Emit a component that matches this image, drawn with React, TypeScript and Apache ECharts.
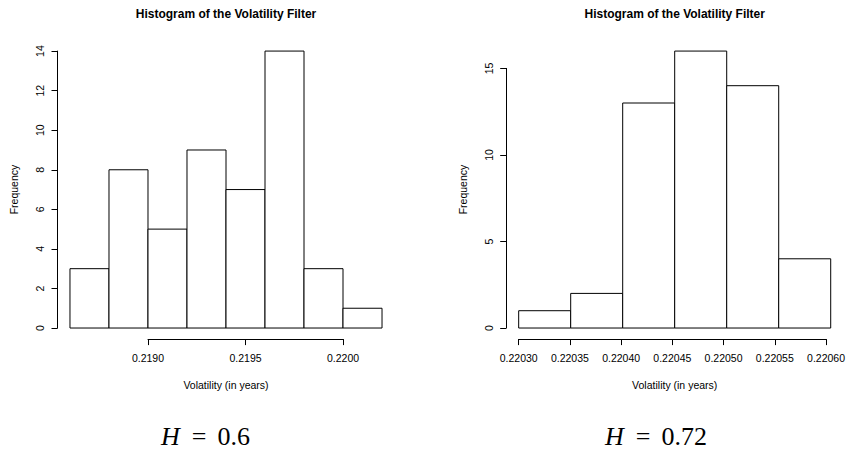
import React, { useEffect, useRef } from "react";
import * as echarts from "echarts";

// ---- data ----
const leftBreaks = [0.2186, 0.2188, 0.219, 0.2192, 0.2194, 0.2196, 0.2198, 0.22, 0.2202];
const leftCounts = [3, 8, 5, 9, 7, 14, 3, 1];
const rightBreaks = [0.2203, 0.22035, 0.2204, 0.22045, 0.2205, 0.22055, 0.2206];
const rightCounts = [1, 2, 13, 16, 14, 4];

const leftXTicks = { min: 0.219, max: 0.22, interval: 0.0005, digits: 4 };
const leftYTicks = { min: 0, max: 14, interval: 2 };
const rightXTicks = { min: 0.2203, max: 0.2206, interval: 0.00005, digits: 5 };
const rightYTicks = { min: 0, max: 15, interval: 5 };

const titleText = "Histogram of the Volatility Filter";
const xLabelText = "Volatility (in years)";
const yLabelText = "Frequency";
const leftH = "0.6";
const rightH = "0.72";

// ---- layout ----
const W = 848;
const H = 451;
const plotTop = 40;
const plotHeight = 299.1;
const plotWidth = 337;
const leftPlotLeft = 57.5;
const rightPlotLeft = 506.2;
const sans = "Liberation Sans, Arial, Helvetica, sans-serif";
const serif = "Liberation Serif, Times New Roman, serif";

function buildPanel(
  idx: number,
  breaks: number[],
  counts: number[],
  xt: { min: number; max: number; interval: number; digits: number },
  yt: { min: number; max: number; interval: number },
  plotLeft: number
) {
  const xmin0 = breaks[0];
  const xmax0 = breaks[breaks.length - 1];
  const xr = xmax0 - xmin0;
  const xmin = xmin0 - 0.04 * xr;
  const xmax = xmax0 + 0.04 * xr;
  const ymax0 = Math.max(...counts);
  const ymin = -0.04 * ymax0;
  const ymax = ymax0 + 0.04 * ymax0;
  const px = (v: number) => plotLeft + ((v - xmin) / (xmax - xmin)) * plotWidth;
  const py = (v: number) => plotTop + plotHeight - ((v - ymin) / (ymax - ymin)) * plotHeight;

  const grids = [
    { left: plotLeft, top: plotTop, width: plotWidth, height: plotHeight },
    { left: px(xt.min), top: plotTop, width: px(xt.max) - px(xt.min), height: plotHeight },
    { left: plotLeft, top: py(yt.max), width: plotWidth, height: py(yt.min) - py(yt.max) },
  ];
  const g0 = idx * 3;
  const hiddenX = (gi: number, min = 0, max = 1) => ({
    type: "value", gridIndex: gi, min, max, show: false, splitLine: { show: false },
  });
  const hiddenY = (gi: number, min = 0, max = 1) => ({
    type: "value", gridIndex: gi, min, max, show: false, splitLine: { show: false },
  });
  const axisCommon = {
    axisLine: { show: true, lineStyle: { color: "#000", width: 1 } },
    axisTick: { show: true, length: 6, lineStyle: { color: "#000", width: 1 } },
    splitLine: { show: false },
  };
  const xAxes = [
    hiddenX(g0, xmin, xmax),
    {
      type: "value",
      gridIndex: g0 + 1,
      position: "bottom",
      min: xt.min,
      max: xt.max,
      interval: xt.interval,
      ...axisCommon,
      axisLabel: {
        show: true,
        color: "#000",
        fontSize: 10.5,
        fontFamily: sans,
        margin: 13,
        showMinLabel: true,
        showMaxLabel: true,
        formatter: (v: number) => v.toFixed(xt.digits),
      },
    },
    hiddenX(g0 + 2),
  ];
  const yAxes = [
    hiddenY(g0, ymin, ymax),
    hiddenY(g0 + 1),
    {
      type: "value",
      gridIndex: g0 + 2,
      position: "left",
      min: yt.min,
      max: yt.max,
      interval: yt.interval,
      ...axisCommon,
      axisLabel: {
        show: true,
        color: "#000",
        fontSize: 10.5,
        fontFamily: sans,
        rotate: 90,
        margin: 12,
        showMinLabel: true,
        showMaxLabel: true,
      },
    },
  ];
  const data = counts.map((c, i) => [breaks[i], breaks[i + 1], c]);
  const series = {
    type: "custom",
    xAxisIndex: g0,
    yAxisIndex: g0,
    data,
    encode: { x: [0, 1], y: 2 },
    renderItem: (params: any, api: any) => {
      const a = api.coord([api.value(0), 0]);
      const b = api.coord([api.value(1), api.value(2)]);
      return {
        type: "rect",
        shape: { x: a[0], y: b[1], width: b[0] - a[0], height: a[1] - b[1] },
        style: { fill: "#fff", stroke: "#000", lineWidth: 1 },
      };
    },
  };
  const cx = plotLeft + plotWidth / 2;
  const cy = plotTop + plotHeight / 2;
  return { grids, xAxes, yAxes, series, cx, cy, plotLeft };
}

export default function App() {
  const ref = useRef<HTMLDivElement>(null);
  useEffect(() => {
    if (!ref.current) return;
    const chart = echarts.init(ref.current, undefined, { renderer: "svg", width: W, height: H });
    const L = buildPanel(0, leftBreaks, leftCounts, leftXTicks, leftYTicks, leftPlotLeft);
    const R = buildPanel(1, rightBreaks, rightCounts, rightXTicks, rightYTicks, rightPlotLeft);
    const texts: any[] = [];
    [
      { p: L, h: leftH, hx: 161 },
      { p: R, h: rightH, hx: 605 },
    ].forEach(({ p, h, hx }) => {
      texts.push({
        type: "text",
        x: p.cx,
        y: 14,
        style: { text: titleText, font: `bold 12px ${sans}`, fill: "#000", align: "center", verticalAlign: "middle" },
      });
      texts.push({
        type: "text",
        x: p.cx,
        y: 385,
        style: { text: xLabelText, font: `10.5px ${sans}`, fill: "#000", align: "center", verticalAlign: "middle" },
      });
      texts.push({
        type: "text",
        x: p.plotLeft - 43.5,
        y: p.cy,
        rotation: Math.PI / 2,
        style: { text: yLabelText, font: `10.5px ${sans}`, fill: "#000", align: "center", verticalAlign: "middle" },
      });
      texts.push({
        type: "text",
        x: hx,
        y: 436,
        style: {
          text: `{h|H}{e|=}{n|${h}}`,
          align: "left",
          verticalAlign: "middle",
          fill: "#000",
          rich: {
            h: { fontFamily: serif, fontSize: 26, fontStyle: "italic", fill: "#000", padding: [0, 12, 0, 0] },
            e: { fontFamily: serif, fontSize: 26, fill: "#000", padding: [0, 11, 0, 0] },
            n: { fontFamily: serif, fontSize: 26, fill: "#000" },
          },
        },
      });
    });
    chart.setOption({
      animation: false,
      backgroundColor: "#fff",
      grid: [...L.grids, ...R.grids],
      xAxis: [...L.xAxes, ...R.xAxes],
      yAxis: [...L.yAxes, ...R.yAxes],
      series: [L.series, R.series],
      graphic: texts,
    });
    return () => chart.dispose();
  }, []);
  return (
    <div
      ref={ref}
      style={{ position: "fixed", left: 0, top: 0, width: W, height: H, background: "#fff" }}
    />
  );
}
